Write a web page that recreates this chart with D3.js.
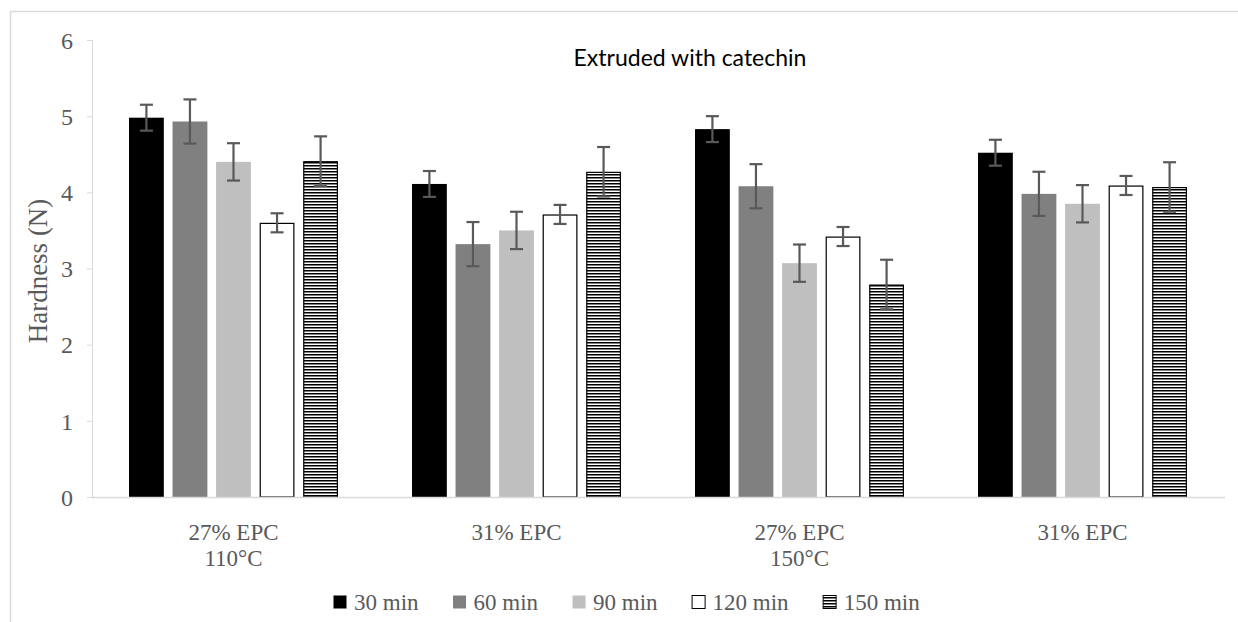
<!DOCTYPE html>
<html><head><meta charset="utf-8">
<script src="https://cdn.jsdelivr.net/npm/d3@7"></script>
<style>body{margin:0;background:#fff}svg{display:block}</style>
</head><body>
<svg id="c" width="1238" height="622"></svg>
<script>
const categories = [["27% EPC","110°C"],["31% EPC"],["27% EPC","150°C"],["31% EPC"]];
const series = ["30 min","60 min","90 min","120 min","150 min"];
const values = [
  [4.98, 4.11, 4.83, 4.52],
  [4.93, 3.32, 4.08, 3.98],
  [4.40, 3.50, 3.07, 3.85],
  [3.60, 3.71, 3.42, 4.09],
  [4.41, 4.27, 2.79, 4.07]
];
const errors = [
  [0.17, 0.17, 0.17, 0.17],
  [0.29, 0.29, 0.29, 0.29],
  [0.245, 0.245, 0.245, 0.245],
  [0.125, 0.125, 0.125, 0.125],
  [0.325, 0.325, 0.325, 0.325]
];
const yTicks = [0,1,2,3,4,5,6];
const title = "Extruded with catechin";
const yTitle = "Hardness (N)";

const svg = d3.select("#c");
const defs = svg.append("defs");
const pat = defs.append("pattern").attr("id","hatch").attr("patternUnits","userSpaceOnUse")
  .attr("width",8).attr("height",3);
pat.append("rect").attr("width",8).attr("height",3).attr("fill","#fff");
pat.append("rect").attr("width",8).attr("height",1.5).attr("fill","#000");

const fills = ["#000000","#808080","#bfbfbf","#ffffff","url(#hatch)"];
const strokes = [null,null,null,"#000","#000"];

// outer border
svg.append("path").attr("d","M10.5,1000 V11.5 H1300").attr("fill","none").attr("stroke","#d9d9d9").attr("stroke-width",1.5);

const x0 = d3.scaleBand().domain(d3.range(categories.length)).range([92,1224]).paddingInner(0).paddingOuter(0);
const x1 = d3.scaleBand().domain(d3.range(series.length)).range([37,283-37]).paddingInner(0.2).paddingOuter(0);
const y = d3.scaleLinear().domain([0,6]).range([497,40]);

const serif = "Liberation Serif, Times New Roman, serif";

// y axis
const ya = svg.append("g").attr("transform","translate(92,0)")
  .call(d3.axisLeft(y).tickValues(yTicks).tickSize(5).tickPadding(14).tickFormat(d3.format("d")));
ya.attr("font-family",serif).attr("font-size",24);
ya.select(".domain").attr("stroke","#d9d9d9").attr("d","M-5,40.5H0.5V497.5");
ya.selectAll(".tick line").attr("stroke","#d9d9d9");
ya.selectAll(".tick text").attr("fill","#595959").attr("dy","0.34em")
  .attr("font-family",serif).attr("font-size",24);

// bars
series.forEach((s,i)=>{
  const g = svg.append("g");
  categories.forEach((c,j)=>{
    const bx = x0(j)+x1(i), bw = x1.bandwidth(), v = values[i][j];
    const r = g.append("rect").attr("x",bx).attr("y",y(v)).attr("width",bw).attr("height",y(0)-y(v)).attr("fill",fills[i]);
    if(strokes[i]) r.attr("stroke",strokes[i]).attr("stroke-width",1.2)
      .attr("x",bx+0.6).attr("width",bw-1.2).attr("y",y(v)+0.6).attr("height",y(0)-y(v)-0.6);
  });
});

// x axis line
svg.append("line").attr("x1",92).attr("x2",1225).attr("y1",497.5).attr("y2",497.5).attr("stroke","#d9d9d9").attr("stroke-width",1.5);

// error bars
series.forEach((s,i)=>{
  categories.forEach((c,j)=>{
    const cx = x0(j)+x1(i)+x1.bandwidth()/2, v=values[i][j], e=errors[i][j];
    const g = svg.append("g").attr("stroke","#595959").attr("stroke-width",2.2);
    g.append("line").attr("x1",cx).attr("x2",cx).attr("y1",y(v+e)).attr("y2",y(v-e));
    g.append("line").attr("x1",cx-6.5).attr("x2",cx+6.5).attr("y1",y(v+e)).attr("y2",y(v+e));
    g.append("line").attr("x1",cx-6.5).attr("x2",cx+6.5).attr("y1",y(v-e)).attr("y2",y(v-e));
  });
});

// category labels
categories.forEach((c,j)=>{
  const cx = x0(j)+x0.bandwidth()/2;
  const t = svg.append("text").attr("x",cx).attr("y",540)
    .attr("text-anchor","middle").attr("fill","#595959").attr("font-family",serif).attr("font-size",23);
  c.forEach((line,k)=>t.append("tspan").attr("x",cx).attr("dy",k?26:0).text(line));
});

// y title
svg.append("text").attr("transform","translate(47,271) rotate(-90)").attr("text-anchor","middle")
  .attr("fill","#595959").attr("font-family",serif).attr("font-size",27).text(yTitle);

// title
svg.append("text").attr("x",690).attr("y",66).attr("text-anchor","middle").attr("fill","#000")
  .attr("font-family","Lato, Open Sans, sans-serif").attr("font-size",23).text(title);

// legend
let lx = 333;
series.forEach((s,i)=>{
  const g = svg.append("g");
  g.append("rect").attr("x",lx+0.5).attr("y",595.5).attr("width",13).attr("height",13)
    .attr("fill", i===4 ? "url(#hatch)" : fills[i]).attr("stroke", strokes[i]||"none").attr("stroke-width",1);
  const t = g.append("text").attr("x",lx+21).attr("y",610).attr("fill","#595959")
    .attr("font-family",serif).attr("font-size",23).text(s);
  lx = lx + 21 + t.node().getComputedTextLength() + 34;
});
</script>
</body></html>
